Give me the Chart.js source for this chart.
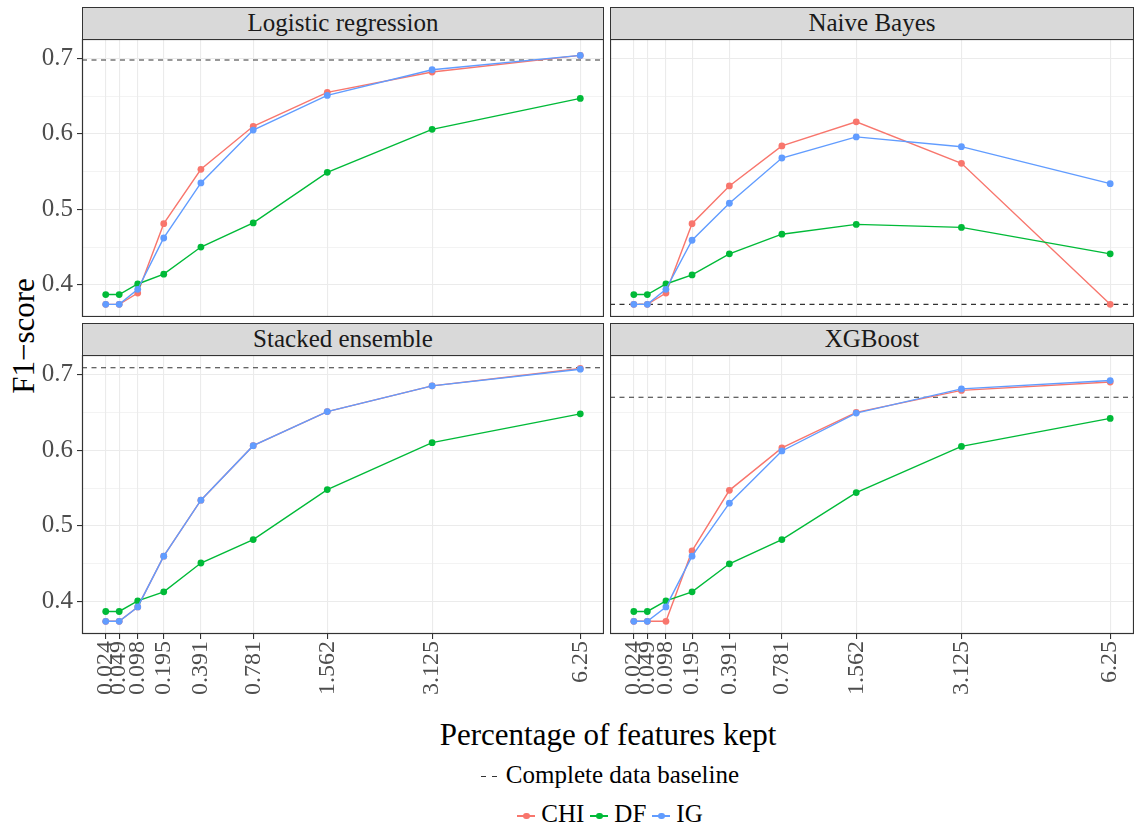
<!DOCTYPE html>
<html>
<head>
<meta charset="utf-8">
<script src="https://cdn.jsdelivr.net/npm/chart.js@4.4.1/dist/chart.umd.min.js"></script>
<style>
  body { margin: 0; background: #fff; font-family: "Liberation Serif", "DejaVu Serif", serif; }
  #wrap { position: relative; width: 1135px; height: 831px; overflow: hidden; }
  canvas { position: absolute; }
  .strip {
    position: absolute; box-sizing: border-box; height: 33px;
    background: #D9D9D9; border: 1.2px solid #333;
    text-align: center; font-size: 25px; line-height: 30px; color: #1A1A1A;
  }
  .ytitle {
    position: absolute; left: 24px; top: 336px; font-size: 31px; color: #000;
    transform: translate(-50%, -50%) rotate(-90deg); white-space: nowrap;
  }
  .xtitle {
    position: absolute; left: 0; width: 1216px; top: 715px; text-align: center;
    font-size: 31px; line-height: 40px; color: #000; white-space: nowrap;
  }
  .legrow {
    position: absolute; left: 0; width: 1220px; text-align: center;
    font-size: 25px; line-height: 30px; color: #000; white-space: nowrap;
  }
  .key { display: inline-block; position: relative; width: 18px; height: 30px; vertical-align: top; margin-right: 6px; }
  .key .ln { position: absolute; left: 0; right: 0; top: 16px; height: 1.5px; }
  .key .pt { position: absolute; left: 6px; top: 13.5px; width: 6.5px; height: 6.5px; border-radius: 50%; }
  .dash { display: inline-block; position: relative; width: 17px; height: 30px; vertical-align: top; margin-right: 8px; }
  .dash span { position: absolute; top: 16px; width: 5px; height: 1.2px; background: #333; }
  .gap { display: inline-block; width: 6px; }
</style>
</head>
<body>
<div id="wrap">
  <div class="ytitle">F1−score</div>
  <div class="xtitle">Percentage of features kept</div>
  <div class="legrow" style="top:760px">
    <span class="dash"><span style="left:0"></span><span style="left:11px"></span></span>Complete data baseline
  </div>
  <div class="legrow" style="top:799px">
    <span class="key"><span class="ln" style="background:#F8766D"></span><span class="pt" style="background:#F8766D"></span></span>CHI<span class="gap"></span><span class="key"><span class="ln" style="background:#00BA38"></span><span class="pt" style="background:#00BA38"></span></span>DF<span class="gap"></span><span class="key"><span class="ln" style="background:#619CFF"></span><span class="pt" style="background:#619CFF"></span></span>IG
  </div>
</div>
<script>
// percentage of features kept (x), plotted on a square-root scale
const pct = [0.024, 0.049, 0.098, 0.195, 0.391, 0.781, 1.562, 3.125, 6.25];
const pctLabels = ['0.024', '0.049', '0.098', '0.195', '0.391', '0.781', '1.562', '3.125', '6.25'];
const yTicks = [0.4, 0.45, 0.5, 0.55, 0.6, 0.65, 0.7];
const yMajor = [0.4, 0.5, 0.6, 0.7];

// Logistic regression
const lrChi = [0.374, 0.374, 0.389, 0.481, 0.553, 0.610, 0.655, 0.682, 0.704];
const lrDf  = [0.387, 0.387, 0.401, 0.414, 0.450, 0.482, 0.549, 0.606, 0.647];
const lrIg  = [0.374, 0.374, 0.394, 0.462, 0.535, 0.605, 0.651, 0.685, 0.704];
const lrBase = 0.698;

// Naive Bayes
const nbChi = [0.374, 0.374, 0.389, 0.481, 0.531, 0.584, 0.616, 0.561, 0.374];
const nbDf  = [0.387, 0.387, 0.401, 0.413, 0.441, 0.467, 0.480, 0.476, 0.441];
const nbIg  = [0.374, 0.374, 0.394, 0.459, 0.508, 0.568, 0.596, 0.583, 0.534];
const nbBase = 0.374;

// Stacked ensemble
const seChi = [0.374, 0.374, 0.393, 0.460, 0.534, 0.606, 0.651, 0.685, 0.708];
const seDf  = [0.387, 0.387, 0.401, 0.413, 0.451, 0.482, 0.548, 0.610, 0.648];
const seIg  = [0.374, 0.374, 0.393, 0.460, 0.534, 0.606, 0.651, 0.685, 0.707];
const seBase = 0.709;

// XGBoost
const xgChi = [0.374, 0.374, 0.374, 0.467, 0.547, 0.603, 0.650, 0.679, 0.690];
const xgDf  = [0.387, 0.387, 0.401, 0.413, 0.450, 0.482, 0.544, 0.605, 0.642];
const xgIg  = [0.374, 0.374, 0.393, 0.460, 0.530, 0.599, 0.649, 0.681, 0.692];
const xgBase = 0.670;

const colors = { CHI: '#F8766D', DF: '#00BA38', IG: '#619CFF' };
const font = 'Liberation Serif';

const panels = [
  { title: 'Logistic regression', chi: lrChi, df: lrDf, ig: lrIg, base: lrBase, col: 0, row: 0 },
  { title: 'Naive Bayes',         chi: nbChi, df: nbDf, ig: nbIg, base: nbBase, col: 1, row: 0 },
  { title: 'Stacked ensemble',    chi: seChi, df: seDf, ig: seIg, base: seBase, col: 0, row: 1 },
  { title: 'XGBoost',             chi: xgChi, df: xgDf, ig: xgIg, base: xgBase, col: 1, row: 1 }
];

// shared scale limits, ggplot style 5% expansion
const sx = pct.map(Math.sqrt);
const xSpan = sx[sx.length - 1] - sx[0];
const xMin = sx[0] - xSpan * 0.05, xMax = sx[sx.length - 1] + xSpan * 0.05;
const allY = [].concat(...panels.map(p => p.chi.concat(p.df, p.ig, [p.base])));
const yLo = Math.min(...allY), yHi = Math.max(...allY);
const yMin = yLo - (yHi - yLo) * 0.05, yMax = yHi + (yHi - yLo) * 0.05;

const panelBorder = {
  id: 'panelBorder',
  afterDraw(chart) {
    const a = chart.chartArea, ctx = chart.ctx;
    ctx.save();
    ctx.strokeStyle = '#333';
    ctx.lineWidth = 1.2;
    ctx.strokeRect(a.left + 0.5, a.top + 0.5, a.width - 1, a.height - 1);
    ctx.restore();
  }
};

const colX = [{ canvasLeft: 0, axisW: 82, plotW: 522 }, { canvasLeft: 610, axisW: 0, plotW: 524 }];
const rowY = [{ stripTop: 7, plotTop: 39, plotH: 278 }, { stripTop: 323, plotTop: 355, plotH: 279 }];
const xAxisH = 76;

function series(name, vals, order) {
  return {
    label: name,
    data: vals.map((v, i) => ({ x: sx[i], y: v })),
    borderColor: colors[name],
    backgroundColor: colors[name],
    pointBackgroundColor: colors[name],
    pointBorderWidth: 0,
    pointRadius: 3.4,
    borderWidth: 1.4,
    order: order
  };
}

const wrap = document.getElementById('wrap');
panels.forEach(p => {
  const c = colX[p.col], r = rowY[p.row];
  const bottom = p.row === 1;

  const strip = document.createElement('div');
  strip.className = 'strip';
  strip.textContent = p.title;
  strip.style.left = (c.canvasLeft + c.axisW) + 'px';
  strip.style.width = c.plotW + 'px';
  strip.style.top = r.stripTop + 'px';
  wrap.appendChild(strip);

  const cv = document.createElement('canvas');
  const w = c.axisW + c.plotW, h = r.plotH + (bottom ? xAxisH : 0);
  cv.width = w; cv.height = h;
  cv.style.left = c.canvasLeft + 'px';
  cv.style.top = r.plotTop + 'px';
  cv.style.width = w + 'px'; cv.style.height = h + 'px';
  wrap.appendChild(cv);

  new Chart(cv, {
    type: 'line',
    data: {
      datasets: [
        {
          label: 'Complete data baseline',
          data: [{ x: xMin, y: p.base }, { x: xMax, y: p.base }],
          borderColor: '#333',
          borderWidth: 1.1,
          borderDash: [5, 4.5],
          pointRadius: 0,
          order: 4
        },
        series('CHI', p.chi, 3),
        series('DF', p.df, 2),
        series('IG', p.ig, 1)
      ]
    },
    options: {
      responsive: false,
      animation: false,
      devicePixelRatio: 1,
      layout: { padding: 0, autoPadding: false },
      plugins: { legend: { display: false }, tooltip: { enabled: false } },
      scales: {
        x: {
          type: 'linear',
          min: xMin, max: xMax,
          afterBuildTicks: s => { s.ticks = sx.map(v => ({ value: v })); },
          afterFit: s => {
            s.height = bottom ? xAxisH : 0;
            s.paddingLeft = 0; s.paddingRight = 0;
          },
          border: { display: false },
          grid: {
            color: '#EBEBEB', lineWidth: 1.1,
            drawTicks: bottom, tickLength: 5, tickColor: '#333', tickWidth: 1.1
          },
          ticks: {
            display: bottom,
            autoSkip: false,
            minRotation: 90, maxRotation: 90,
            padding: 2,
            color: '#4D4D4D',
            font: { family: font, size: 24 },
            callback: (v, i) => pctLabels[i]
          }
        },
        y: {
          min: yMin, max: yMax,
          afterBuildTicks: s => { s.ticks = yTicks.map(v => ({ value: v })); },
          afterFit: s => {
            s.width = c.axisW;
            s.paddingTop = 0; s.paddingBottom = 0;
          },
          border: { display: false },
          grid: {
            color: '#EBEBEB',
            lineWidth: ctx => (ctx.tick && yMajor.some(m => Math.abs(m - ctx.tick.value) < 1e-6)) ? 1.1 : 0.6,
            drawTicks: p.col === 0, tickLength: 5, tickWidth: 1.1,
            tickColor: ctx => (ctx.tick && yMajor.some(m => Math.abs(m - ctx.tick.value) < 1e-6)) ? '#333' : 'rgba(0,0,0,0)'
          },
          ticks: {
            display: p.col === 0,
            padding: 4,
            color: '#4D4D4D',
            font: { family: font, size: 25 },
            callback: v => yMajor.some(m => Math.abs(m - v) < 1e-6) ? v.toFixed(1) : ''
          }
        }
      }
    },
    plugins: [panelBorder]
  });
});
</script>
</body>
</html>
